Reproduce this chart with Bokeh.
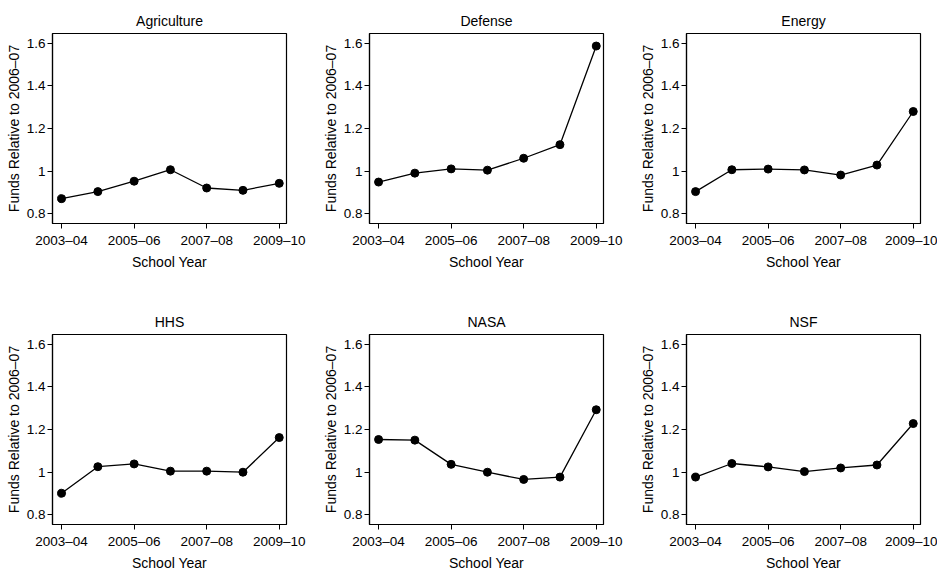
from bokeh.plotting import figure
from bokeh.layouts import column, row
from bokeh.models import Range1d, FixedTicker, CustomJSTickFormatter, ColumnDataSource
from bokeh.embed import file_html
from bokeh.resources import INLINE

school_years = ["2003–04", "2004–05", "2005–06", "2006–07", "2007–08", "2008–09", "2009–10"]
year_index = [0, 1, 2, 3, 4, 5, 6]
labeled_ticks = [0, 2, 4, 6]
y_ticks = [0.8, 1.0, 1.2, 1.4, 1.6]

agriculture = [0.870, 0.903, 0.952, 1.006, 0.920, 0.909, 0.942]
defense = [0.948, 0.990, 1.010, 1.004, 1.060, 1.124, 1.588]
energy = [0.903, 1.006, 1.009, 1.005, 0.981, 1.028, 1.280]
hhs = [0.900, 1.025, 1.038, 1.004, 1.004, 0.999, 1.162]
nasa = [1.153, 1.150, 1.036, 0.999, 0.965, 0.976, 1.293]
nsf = [0.976, 1.040, 1.024, 1.002, 1.019, 1.033, 1.228]

panels = [
    ("Agriculture", agriculture),
    ("Defense", defense),
    ("Energy", energy),
    ("HHS", hhs),
    ("NASA", nasa),
    ("NSF", nsf),
]

FONT = "Liberation Sans"


def make_panel(title, values, col, rw):
    right = 17 if col == 2 else 31
    bottom = 78 if rw == 0 else 47
    p = figure(
        frame_width=234, frame_height=190,
        min_border_left=52, min_border_right=right,
        min_border_top=33, min_border_bottom=bottom,
        x_range=Range1d(-0.25, 6.2), y_range=Range1d(0.753, 1.647),
        toolbar_location=None, output_backend="svg", title=title,
    )
    p.title.align = "center"
    p.title.text_font = FONT
    p.title.text_font_size = "14px"
    p.title.text_font_style = "normal"
    p.title.text_color = "black"
    p.title.standoff = 10
    p.outline_line_color = "black"
    p.outline_line_width = 1.2
    p.outline_line_alpha = 1
    p.xgrid.visible = False
    p.ygrid.visible = False
    p.background_fill_color = "white"
    p.border_fill_color = "white"

    src = ColumnDataSource(dict(x=year_index, y=values))
    p.line("x", "y", source=src, line_color="black", line_width=1.3)
    p.scatter("x", "y", source=src, size=8, fill_color="black", line_color="black")

    xa = p.xaxis[0]
    xa.ticker = FixedTicker(ticks=labeled_ticks, minor_ticks=[])
    xa.formatter = CustomJSTickFormatter(args=dict(labels=school_years),
                                         code="return labels[Math.round(tick)];")
    xa.axis_label = "School Year"
    ya = p.yaxis[0]
    ya.ticker = FixedTicker(ticks=y_ticks, minor_ticks=[])
    ya.formatter = CustomJSTickFormatter(code="return tick.toFixed(1).replace(/\\.0$/, '');")
    ya.axis_label = "Funds Relative to 2006–07"
    for ax in (xa, ya):
        ax.axis_line_color = "black"
        ax.axis_line_width = 1.2
        ax.major_tick_line_color = "black"
        ax.major_tick_out = 5
        ax.major_tick_in = 0
        ax.minor_tick_line_color = None
        ax.major_label_text_font = FONT
        ax.major_label_text_font_size = "13.5px"
        ax.major_label_text_color = "black"
        ax.axis_label_text_font = FONT
        ax.axis_label_text_font_size = "14px"
        ax.axis_label_text_font_style = "normal"
        ax.axis_label_text_color = "black"
    xa.major_label_standoff = 4
    xa.axis_label_standoff = 3
    ya.major_label_standoff = 2
    ya.axis_label_standoff = 2
    return p


figs = [make_panel(t, v, i % 3, i // 3) for i, (t, v) in enumerate(panels)]
layout = column(row(*figs[:3]), row(*figs[3:]))

open("out.html", "w").write(file_html(layout, INLINE))
